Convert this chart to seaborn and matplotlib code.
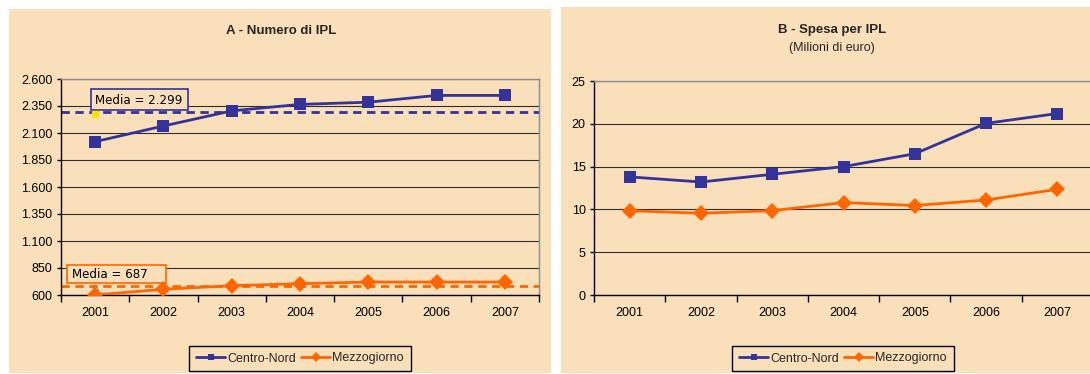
import pandas as pd
import matplotlib
matplotlib.use("Agg")
import matplotlib.pyplot as plt
from matplotlib import font_manager
from matplotlib.patches import Rectangle
from matplotlib.lines import Line2D
from matplotlib.ticker import FuncFormatter
import seaborn as sns

# --- data ---
years = [2001, 2002, 2003, 2004, 2005, 2006, 2007]
series = ["Centro-Nord", "Mezzogiorno"]
numero_centro_nord = [2020, 2165, 2305, 2365, 2385, 2448, 2448]
numero_mezzogiorno = [600, 653, 686, 705, 720, 720, 720]
media_numero = [2299, 687]
spesa_centro_nord = [13.8, 13.2, 14.1, 15.0, 16.5, 20.05, 21.2]
spesa_mezzogiorno = [9.85, 9.55, 9.85, 10.8, 10.45, 11.1, 12.35]

BG = "#FADFBB"
BLUE = "#333399"
ORANGE = "#FF6600"
W, H = 1090, 374

sns.set_theme(style="white")
names = {f.name for f in font_manager.fontManager.ttflist}
narrow = "Liberation Sans Narrow" if "Liberation Sans Narrow" in names else "Liberation Sans"
plt.rcParams["font.family"] = [narrow, "DejaVu Sans"]


def long_df(cn, mz):
    return pd.DataFrame({
        "Anno": years * 2,
        "Valore": list(cn) + list(mz),
        "Serie": [series[0]] * len(years) + [series[1]] * len(years),
    })


def fx(px):
    return px / W


def fy(py):
    return 1 - py / H


fig = plt.figure(figsize=(10.9, 3.74), dpi=100, facecolor="white")

# panel backgrounds
fig.add_artist(Rectangle((fx(9), fy(373)), fx(542), 364 / H, transform=fig.transFigure,
                         facecolor=BG, edgecolor="none", zorder=0))
fig.add_artist(Rectangle((fx(561), fy(373)), fx(540), 366 / H, transform=fig.transFigure,
                         facecolor=BG, edgecolor="none", zorder=0))

axA = fig.add_axes([fx(61), fy(295), fx(478), 216 / H])
axB = fig.add_axes([fx(594), fy(295), fx(499), 214 / H])

palette = {series[0]: BLUE, series[1]: ORANGE}
markers = {series[0]: "s", series[1]: "D"}

for ax, df in [(axA, long_df(numero_centro_nord, numero_mezzogiorno)),
               (axB, long_df(spesa_centro_nord, spesa_mezzogiorno))]:
    ax.patch.set_alpha(0)
    sns.lineplot(data=df, x="Anno", y="Valore", hue="Serie", style="Serie",
                 palette=palette, markers=markers, dashes=False, ax=ax,
                 linewidth=2, markersize=8, markeredgewidth=0, zorder=3, legend=False)
    ax.set_xlabel("")
    ax.set_ylabel("")
    ax.set_xlim(years[0] - 0.5, years[-1] + 0.5)
    ax.set_xticks(years)
    ax.set_xticks([y - 0.5 for y in years] + [years[-1] + 0.5], minor=True)
    ax.tick_params(axis="x", which="major", length=0, pad=9, labelsize=9, colors="black")
    ax.tick_params(axis="x", which="minor", length=5, width=1, direction="out", color="black", bottom=True)
    ax.tick_params(axis="y", which="major", length=3, width=1, direction="out", color="black",
                   left=True, pad=3, labelsize=9, labelcolor="black")
    ax.grid(axis="y", color="#303030", linewidth=0.8, zorder=0.5)
    ax.set_axisbelow(True)
    for side in ["left", "bottom"]:
        ax.spines[side].set_color("black")
        ax.spines[side].set_linewidth(1)
    for side in ["top", "right"]:
        ax.spines[side].set_color("#8C8C8C")
        ax.spines[side].set_linewidth(1)

# panel A axis
axA.set_ylim(600, 2600)
axA.set_yticks(range(600, 2601, 250))
axA.yaxis.set_major_formatter(FuncFormatter(lambda v, p: f"{int(v):,}".replace(",", ".")))
for val, col in zip(media_numero, [BLUE, ORANGE]):
    axA.axhline(val, color=col, linewidth=2, linestyle=(0, (3, 2)), zorder=2.5)
# small marker artefacts at the start of the mean series
axA.plot([years[0]], [media_numero[0] - 20], marker="s", markersize=4, color="#F2E600",
         linestyle="none", zorder=2.6, clip_on=False)
axA.plot([years[0]], [media_numero[1] - 10], marker="^", markersize=5, markerfacecolor="none",
         markeredgecolor="#33CCCC", linestyle="none", zorder=2.4, clip_on=False)

# panel B axis
axB.set_ylim(0, 25)
axB.set_yticks(range(0, 26, 5))

# mean annotation boxes
for (x0, y0, x1, y1), tx, label, col in [
        ((91, 89, 188, 110), 95, f"Media = {media_numero[0]:,}".replace(",", "."), BLUE),
        ((67, 265, 166, 283), 72, f"Media = {media_numero[1]}", ORANGE)]:
    axA.add_patch(Rectangle((fx(x0), fy(y1)), fx(x1 - x0), (y1 - y0) / H,
                            transform=fig.transFigure, facecolor=BG, edgecolor=col,
                            linewidth=1.2, zorder=2, clip_on=False))
    axA.text(fx(tx), fy((y0 + y1) / 2 + 0.5), label, transform=fig.transFigure,
             ha="left", va="center", fontsize=8.6, family="DejaVu Sans", color="black", zorder=2.1)

# titles
fig.text(fx(281), fy(31), "A - Numero di IPL", ha="center", va="center",
         fontsize=9.5, fontweight="bold")
fig.text(fx(832), fy(30), "B - Spesa per IPL", ha="center", va="center",
         fontsize=9.5, fontweight="bold")
fig.text(fx(832), fy(48), "(Milioni di euro)", ha="center", va="center", fontsize=9)

# legends
handles = [Line2D([], [], color=BLUE, marker="s", markersize=5, linewidth=2, markeredgewidth=0),
           Line2D([], [], color=ORANGE, marker="D", markersize=5, linewidth=2, markeredgewidth=0)]
for cx in [300, 843]:
    leg = fig.legend(handles, series, loc="center", bbox_to_anchor=(fx(cx), fy(358.5)),
                     ncol=2, frameon=True, fancybox=False, edgecolor="black", facecolor=BG,
                     framealpha=1, fontsize=9, handlelength=2.3, handletextpad=0.2,
                     columnspacing=0.4, borderpad=0.55, borderaxespad=0)
    leg.get_frame().set_linewidth(1)

fig.savefig("out.png", dpi=100, facecolor="white")
